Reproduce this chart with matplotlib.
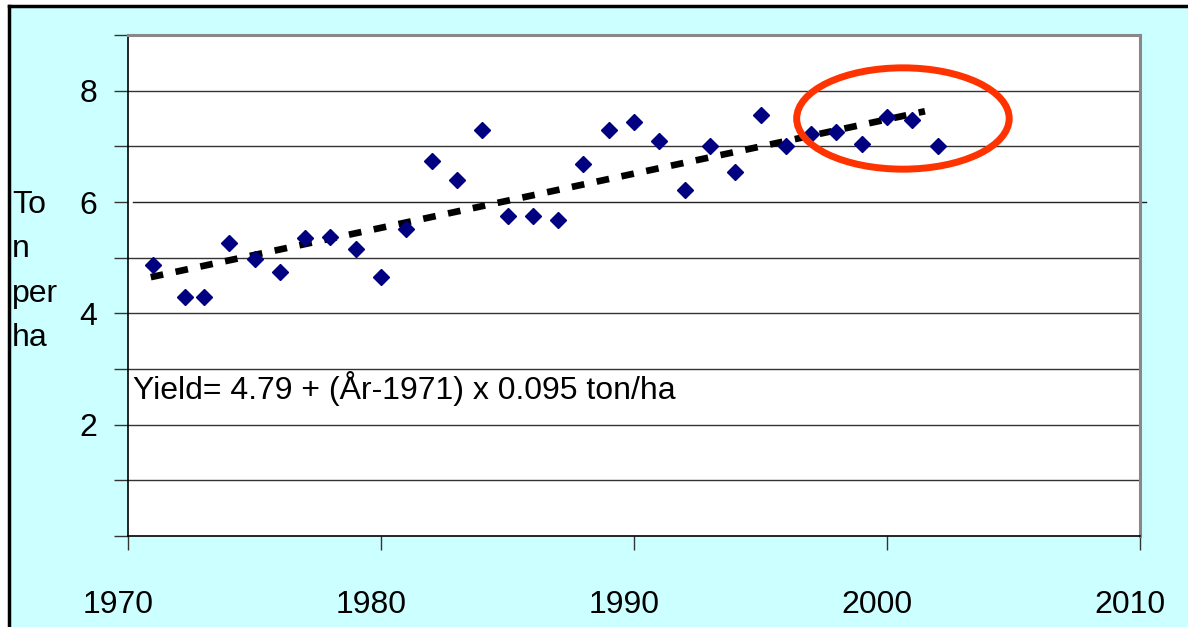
import matplotlib.pyplot as plt
from matplotlib.patches import Ellipse, Rectangle
from matplotlib.lines import Line2D
from matplotlib.transforms import ScaledTranslation

plt.rcParams['font.family'] = ['Liberation Sans', 'DejaVu Sans']

# yearly yield, ton per ha
years = [1971, 1972.25, 1973, 1974, 1975, 1976, 1977, 1978, 1979, 1980,
         1981, 1982, 1983, 1984, 1985, 1986, 1987, 1988, 1989, 1990,
         1991, 1992, 1993, 1994, 1995, 1996, 1997, 1998, 1999, 2000,
         2001, 2002]
yields = [4.86, 4.29, 4.29, 5.26, 4.97, 4.75, 5.35, 5.38, 5.15, 4.65,
          5.52, 6.74, 6.39, 7.30, 5.74, 5.74, 5.67, 6.69, 7.30, 7.43,
          7.09, 6.22, 7.01, 6.53, 7.57, 7.00, 7.23, 7.26, 7.05, 7.52,
          7.48, 7.01]

# linear trend, end points
trend_x = [1970.9, 2001.5]
trend_y = [4.65, 7.63]

x_ticks = [1970, 1980, 1990, 2000, 2010]
y_ticks = [2, 4, 6, 8]
ylabel = 'To\nn\nper\nha'
eq_text = 'Yield= 4.79 + (År-1971) x 0.095 ton/ha'
FS = 23

W, H = 1188, 627
fig = plt.figure(figsize=(W / 100, H / 100), dpi=100, facecolor='white')

# cyan panel with black border on top and left
fig.patches.append(Rectangle((9 / W, 0), 1, (H - 6) / H, transform=fig.transFigure,
                             facecolor='#ccffff', edgecolor='none', zorder=-5))
fig.lines.append(Line2D([9 / W, 1], [(H - 6) / H] * 2, transform=fig.transFigure,
                        color='black', lw=2.5, zorder=-4))
fig.lines.append(Line2D([9 / W] * 2, [0, (H - 6) / H], transform=fig.transFigure,
                        color='black', lw=2.5, zorder=-4))

ax = fig.add_axes([128 / W, (H - 536) / H, (1140 - 128) / W, (536 - 35) / H])
ax.set_facecolor('white')
ax.set_xlim(1970, 2010)
ax.set_ylim(0, 9)

# horizontal gridlines
for v in range(1, 9):
    if v == 6:
        ax.axhline(v, xmin=0.005, xmax=1.006, color='#222222', lw=1, clip_on=False, zorder=1)
    else:
        ax.axhline(v, color='#333333', lw=1, zorder=1)

ax.plot(trend_x, trend_y, color='black', lw=4.8, dashes=(1.9, 1.9), zorder=3,
        dash_capstyle='butt')
ax.plot(years, yields, linestyle='none', marker='D', markersize=8,
        color='#000080', zorder=4)

ax.add_patch(Ellipse((2000.63, 7.5), 8.4, 1.82, facecolor='none',
                     edgecolor='#ff3300', lw=5, zorder=5))

ax.text(1970.2, 2.65, eq_text, fontsize=FS, va='center', ha='left', zorder=6)

# ticks
ax.set_xticks(x_ticks)
ax.set_xticklabels([str(t) for t in x_ticks], fontsize=FS)
ax.set_yticks(y_ticks)
ax.set_yticklabels([str(t) for t in y_ticks], fontsize=FS)
ax.set_yticks([0, 1, 3, 5, 7, 9], minor=True)
ax.tick_params(axis='x', direction='out', length=10, width=1, pad=29, color='#333333')
ax.tick_params(axis='y', which='both', direction='out', length=10, width=1, pad=12,
               color='#333333')

shift = ScaledTranslation(-10 / 100, 0, fig.dpi_scale_trans)
for lab in ax.get_xticklabels():
    lab.set_transform(lab.get_transform() + shift)

for s in ['left', 'bottom']:
    ax.spines[s].set_color('black')
    ax.spines[s].set_linewidth(1.2)
for s in ['top', 'right']:
    ax.spines[s].set_color('#888888')
    ax.spines[s].set_linewidth(2.2)

fig.text(12 / W, 1 - 190 / H, ylabel, fontsize=FS, va='top', ha='left',
         linespacing=1.62)

fig.savefig('out.png', dpi=100, facecolor=fig.get_facecolor())
